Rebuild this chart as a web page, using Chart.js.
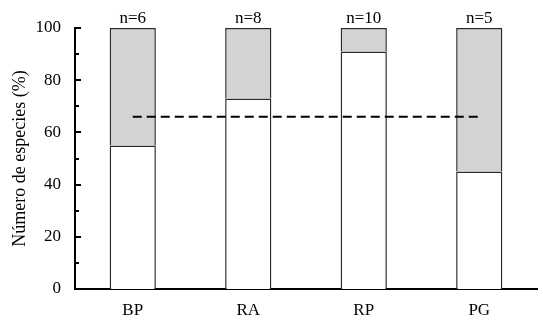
<!DOCTYPE html>
<html>
<head>
<meta charset="utf-8">
<script src="https://cdn.jsdelivr.net/npm/chart.js@4.4.0/dist/chart.umd.min.js"></script>
<style>
    html, body { margin: 0; padding: 0; background: #fff; }
    #chart { display: block; }
</style>
</head>
<body>
<canvas id="chart" width="543" height="326"></canvas>
<script>
const categories = ['BP', 'RA', 'RP', 'PG'];
const whiteValues = [55, 73, 91, 45];
const grayValues = [45, 27, 9, 55];
const meanValues = [66, 66, 66, 66];
const nLabels = ['n=6', 'n=8', 'n=10', 'n=5'];

const FONT = '"Liberation Serif", "Times New Roman", serif';

// small tick marks pointing into the plot, majors every 20, minors every 10
const innerTicks = {
    id: 'innerTicks',
    afterDraw(chart) {
        const ctx = chart.ctx;
        const y = chart.scales.y;
        const left = chart.chartArea.left;
        ctx.save();
        ctx.strokeStyle = '#000';
        ctx.lineWidth = 2;
        for (let v = 0; v <= 100; v += 10) {
            const py = Math.round(y.getPixelForValue(v));
            const len = v % 20 === 0 ? 6 : 4;
            ctx.beginPath();
            ctx.moveTo(left, py);
            ctx.lineTo(left + len, py);
            ctx.stroke();
        }
        ctx.restore();
    }
};

// "n=" labels above each bar
const nLabelPlugin = {
    id: 'nLabels',
    afterDatasetsDraw(chart) {
        const ctx = chart.ctx;
        const x = chart.scales.x;
        const y = chart.scales.y;
        ctx.save();
        ctx.font = '17px ' + FONT;
        ctx.fillStyle = '#000';
        ctx.textAlign = 'center';
        ctx.textBaseline = 'alphabetic';
        nLabels.forEach((lbl, i) => {
            ctx.fillText(lbl, x.getPixelForValue(i), y.getPixelForValue(100) - 5);
        });
        ctx.restore();
    }
};

const ctx = document.getElementById('chart').getContext('2d');
new Chart(ctx, {
    type: 'bar',
    data: {
        labels: categories,
        datasets: [
            {
                data: whiteValues,
                backgroundColor: '#ffffff',
                borderColor: '#2a2a2a',
                borderWidth: 1.5,
                borderSkipped: 'start',
                stack: 'bars',
                order: 1
            },
            {
                data: grayValues,
                backgroundColor: '#d3d3d3',
                borderColor: '#2a2a2a',
                borderWidth: 1.5,
                borderSkipped: 'start',
                stack: 'bars',
                order: 1
            },
            {
                type: 'line',
                data: meanValues,
                borderColor: '#000',
                borderWidth: 2,
                borderDash: [9, 5],
                pointRadius: 0,
                fill: false,
                stack: 'ref',
                order: 0
            }
        ]
    },
    options: {
        responsive: false,
        animation: false,
        devicePixelRatio: 1,
        categoryPercentage: 1,
        barPercentage: 0.4,
        layout: { padding: { top: 28, right: 6, left: 0, bottom: 0 } },
        plugins: {
            legend: { display: false },
            tooltip: { enabled: false }
        },
        scales: {
            x: {
                stacked: true,
                grid: { display: false, drawTicks: false },
                border: { color: '#000', width: 2 },
                ticks: { color: '#000', padding: 11, font: { family: FONT, size: 17 } },
                afterFit(scale) { scale.height = 37; }
            },
            y: {
                stacked: true,
                min: 0,
                max: 100,
                grid: { display: false, drawTicks: false },
                border: { color: '#000', width: 2 },
                ticks: {
                    stepSize: 20,
                    color: '#000',
                    padding: 14,
                    font: { family: FONT, size: 17 }
                },
                title: {
                    display: true,
                    text: 'Número de especies (%)',
                    color: '#000',
                    font: { family: FONT, size: 18 },
                    padding: { top: 9, bottom: 0 }
                },
                afterFit(scale) { scale.width = 75; }
            }
        }
    },
    plugins: [innerTicks, nLabelPlugin]
});
</script>
</body>
</html>
